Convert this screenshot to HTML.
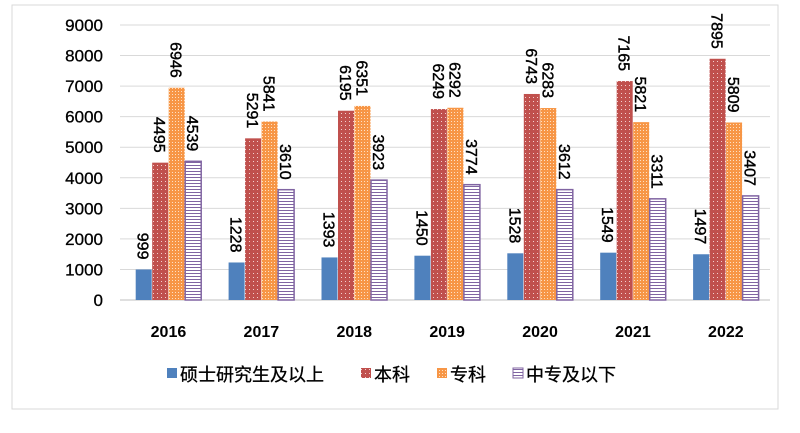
<!DOCTYPE html>
<html><head><meta charset="utf-8"><style>
body{margin:0;background:#fff;}
svg{display:block;font-family:"Liberation Sans","Noto Sans CJK SC",sans-serif;}
</style></head><body>
<svg id="c" width="800" height="433">
<defs>
<pattern id="pRed" width="4" height="4" patternUnits="userSpaceOnUse"><rect width="4" height="4" fill="#c0504d"/><rect x="1" y="1" width="1" height="1" fill="#f2d0cf"/></pattern>
<pattern id="pOra" width="3" height="3" patternUnits="userSpaceOnUse"><rect width="3" height="3" fill="#f79646"/><rect x="1" y="1" width="1" height="1" fill="#fde0c4"/></pattern>
<pattern id="pPur" width="4" height="3" patternUnits="userSpaceOnUse"><rect width="4" height="3" fill="#fff"/><rect width="4" height="1" fill="#8064a2"/></pattern>
</defs>
<rect x="12" y="5" width="766" height="404" fill="#fff" stroke="#d9d9d9"/>
<g id="grid"></g><g id="bars"></g><g id="labels"></g>
<g font-size="18" fill="#000" stroke="#000" stroke-width="0.3">
<rect x="167" y="368" width="10" height="10" fill="#4f81bd" stroke="none"/>
<text x="180" y="381">硕士研究生及以上</text>
<rect x="361" y="368" width="10" height="10" fill="url(#pRed)" stroke="none"/>
<text x="374" y="381">本科</text>
<rect x="437" y="368" width="10" height="10" fill="url(#pOra)" stroke="none"/>
<text x="450" y="381">专科</text>
<rect x="513" y="368" width="10" height="10" fill="url(#pPur)" stroke="#8064a2" stroke-width="1"/>
<text x="526" y="381">中专及以下</text>
</g>
</svg>
<script>
const categories=["2016","2017","2018","2019","2020","2021","2022"];
const master=[999,1228,1393,1450,1528,1549,1497];
const bachelor=[4495,5291,6195,6249,6743,7165,7895];
const college=[6946,5841,6351,6292,6283,5821,5809];
const secondary=[4539,3610,3923,3774,3612,3311,3407];
const yTicks=[0,1000,2000,3000,4000,5000,6000,7000,8000,9000];
const NS="http://www.w3.org/2000/svg";
const y0=300,yTop=25,yMax=9000;
const y=v=>y0-(v/yMax)*(y0-yTop);
const x0=120,band=92.9;
const cx=i=>x0+band*(i+0.5);
function mk(t,a,p){const e=document.createElementNS(NS,t);for(const k in a)e.setAttribute(k,a[k]);p.appendChild(e);return e;}
const grid=document.getElementById('grid'),bars=document.getElementById('bars'),labels=document.getElementById('labels');
yTicks.forEach(v=>{
 const l=mk('line',{x1:x0,x2:770,y1:y(v),y2:y(v),stroke:v===0?'#bfbfbf':'#d9d9d9'},grid);
 
 
 const t=mk('text',{x:103,y:y(v)+6,'text-anchor':'end','font-size':'17',fill:'#000',stroke:'#000','stroke-width':'0.3'},grid);
 t.textContent=v;
 
 
});
const series=[[master,'#4f81bd','master'],[bachelor,'url(#pRed)','bachelor'],[college,'url(#pOra)','college'],[secondary,'url(#pPur)','secondary']];
const bw=16,gap=0.5;
categories.forEach((c,i)=>{
 const t=mk('text',{x:cx(i)+2,y:337,'text-anchor':'middle','font-size':'16','font-weight':'bold',fill:'#000'},grid);
 t.textContent=c;
 
 
 series.forEach((s,j)=>{
  const v=s[0][i];
  const bx=cx(i)-2*bw-1.5*gap+j*(bw+gap)+2;
  const a={x:bx,y:y(v),width:bw,height:y0-y(v),fill:s[1]};
  if(j===3){a.stroke='#8064a2';a['stroke-width']=1.5;}
  const r=mk('rect',a,bars);
  
  
  const lx=bx+bw/2, ly=y(v)-10;
  const tt=mk('text',{x:0,y:0,transform:`translate(${lx-6},${ly}) rotate(90)`,'text-anchor':'end','font-size':'16',fill:'#000',stroke:'#000','stroke-width':'0.4'},labels);
  tt.textContent=v;
  
  
 });
});
</script>
</body></html>
